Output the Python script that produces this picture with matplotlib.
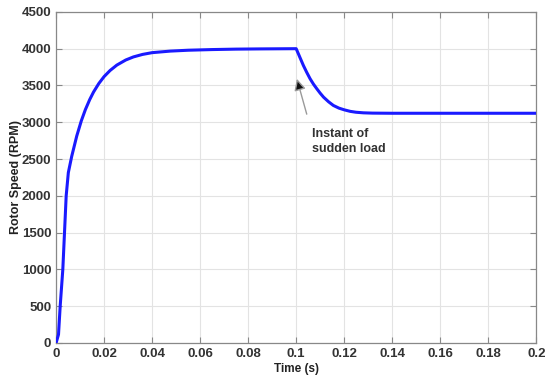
import matplotlib
matplotlib.use('Agg')
import matplotlib.pyplot as plt

# rotor speed
time_s = [0, 0.001, 0.0017, 0.0028, 0.0035, 0.0042, 0.0051, 0.0065, 0.0086,
          0.0105, 0.0122, 0.014, 0.0156, 0.0178, 0.02, 0.0225, 0.0253, 0.029,
          0.0322, 0.036, 0.04, 0.0475, 0.055, 0.065, 0.075, 0.085, 0.1,
          0.1015, 0.103, 0.1044, 0.1058, 0.1072, 0.1086, 0.11, 0.1114, 0.1135,
          0.1155, 0.1178, 0.12, 0.1225, 0.1249, 0.128, 0.1318, 0.14, 0.16,
          0.18, 0.2]
speed_rpm = [0, 114, 500, 1000, 1500, 2000, 2316, 2536, 2813,
             3019, 3172, 3308, 3411, 3527, 3621, 3704, 3777, 3846,
             3888, 3922, 3946, 3967, 3979, 3988, 3994, 3997, 4000,
             3886, 3772, 3678, 3591, 3518, 3455, 3395, 3341, 3278,
             3228, 3192, 3169, 3148, 3136, 3128, 3124, 3122, 3122,
             3122, 3122]

x_ticks = [0, 0.02, 0.04, 0.06, 0.08, 0.1, 0.12, 0.14, 0.16, 0.18, 0.2]
x_labels = ['0', '0.02', '0.04', '0.06', '0.08', '0.1', '0.12', '0.14', '0.16', '0.18', '0.2']
y_ticks = [0, 500, 1000, 1500, 2000, 2500, 3000, 3500, 4000, 4500]

plt.rcParams['font.family'] = ['Liberation Sans', 'DejaVu Sans']
plt.rcParams['font.weight'] = 'bold'

fig = plt.figure(figsize=(5.5, 3.84), dpi=100)
ax = fig.add_axes([0.102, 0.107, 0.873, 0.862])

ax.plot(time_s, speed_rpm, color='#1a1aff', linewidth=2.2, zorder=3)

ax.set_xlim(0, 0.2)
ax.set_ylim(0, 4500)
ax.set_xticks(x_ticks)
ax.set_xticklabels(x_labels)
ax.set_yticks(y_ticks)
ax.grid(True, color='#e3e3e3', linewidth=0.8)
ax.tick_params(direction='in', top=True, right=True, length=4, width=0.8,
               colors='#888888', labelcolor='#333333', labelsize=9.5)
for sp in ax.spines.values():
    sp.set_color('#888888')
    sp.set_linewidth(0.9)

ax.set_xlabel('Time (s)', fontsize=8.5, fontweight='bold', color='#222222', labelpad=2)
ax.set_ylabel('Rotor Speed (RPM)', fontsize=9, fontweight='bold', color='#222222', labelpad=0)

# annotation text and arrow (grey shaft, dark head)
ax.text(0.1065, 2740, 'Instant of\nsudden load', fontsize=9, fontweight='bold',
        color='#333333', va='center', ha='left', linespacing=1.3)
ax.annotate('', xy=(0.1003, 3590), xytext=(0.1044, 3110),
            arrowprops=dict(arrowstyle='-|>', edgecolor='#9a9a9a', facecolor='#111111',
                            lw=1.0, mutation_scale=17, shrinkA=0, shrinkB=0))

fig.savefig('out.png', dpi=100)
